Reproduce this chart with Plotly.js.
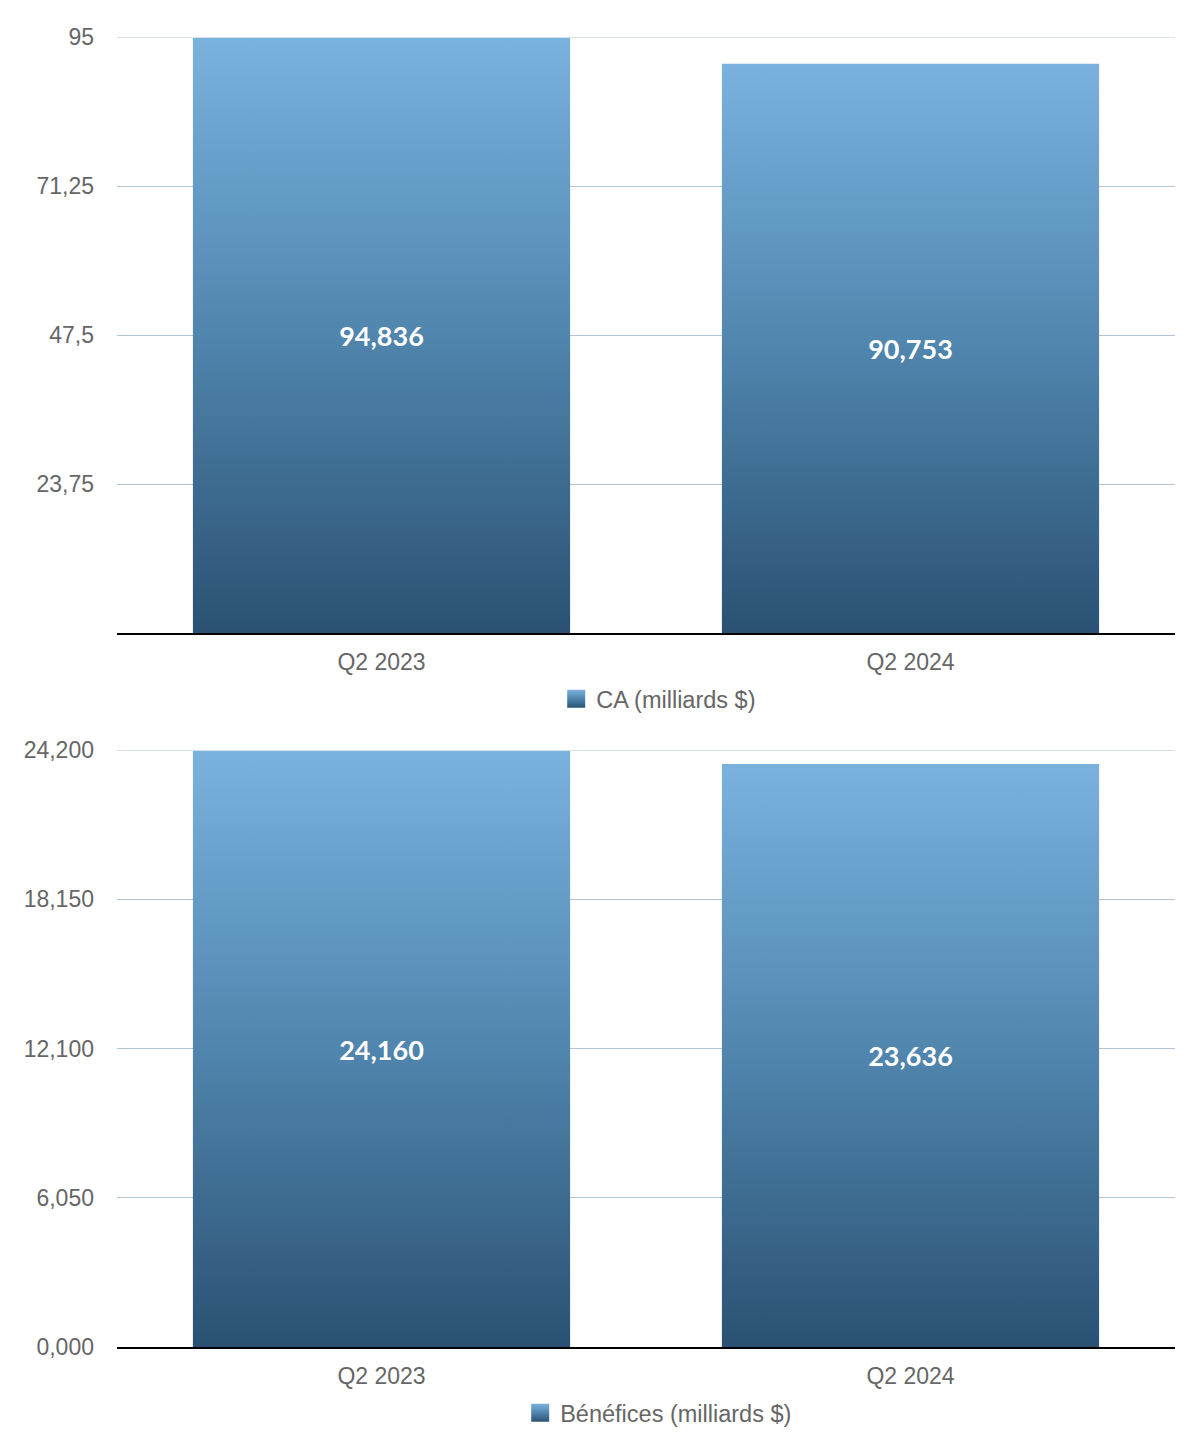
<!DOCTYPE html>
<html>
<head>
<meta charset="utf-8">
<script src="https://cdn.plot.ly/plotly-3.0.1.min.js"></script>
<style>html,body{margin:0;padding:0;background:#fff;}#chart{width:1200px;height:1454px;}</style>
</head>
<body>
<div id="chart"></div>
<script>
const categories = ['Q2 2023', 'Q2 2024'];
const revenue = [94.836, 90.753];
const revenueLabels = ['94,836', '90,753'];
const profit = [24.160, 23.636];
const profitLabels = ['24,160', '23,636'];
const revTickVals = [23.75, 47.5, 71.25, 95];
const revTickText = ['23,75', '47,5', '71,25', '95'];
const profTickVals = [0, 6.05, 12.1, 18.15, 24.2];
const profTickText = ['0,000', '6,050', '12,100', '18,150', '24,200'];
const revMax = 95;
const profMax = 24.2;

const tickFont = {family: 'Liberation Sans, Arial, sans-serif', size: 23, color: '#666666'};
const labelFont = {family: 'Lato, sans-serif', size: 27, color: '#ffffff', weight: 700};
const legendFont = {family: 'Liberation Sans, Arial, sans-serif', size: 23.5, color: '#666666'};

const traces = [
  {type: 'bar', x: categories, y: revenue, text: revenueLabels, name: 'CA (milliards $)',
   xaxis: 'x', yaxis: 'y', width: 0.713, marker: {color: '#4f86ae'},
   textposition: 'inside', insidetextanchor: 'middle', textangle: 0, textfont: labelFont,
   hoverinfo: 'none', legend: 'legend', cliponaxis: false},
  {type: 'bar', x: categories, y: profit, text: profitLabels, name: 'Bénéfices (milliards $)',
   xaxis: 'x2', yaxis: 'y2', width: 0.713, marker: {color: '#4f86ae'},
   textposition: 'inside', insidetextanchor: 'middle', textangle: 0, textfont: labelFont,
   hoverinfo: 'none', legend: 'legend2', cliponaxis: false}
];

const yCommon = {gridcolor: '#b3c5d8', gridwidth: 1, zeroline: false, showline: false,
  tickfont: tickFont, ticks: '', ticklabelstandoff: 22, tickmode: 'array', fixedrange: true};
const xCommon = {showline: true, linecolor: '#000000', linewidth: 1.5, ticks: '',
  tickfont: tickFont, showgrid: false, fixedrange: true, ticklabelstandoff: 8};

const layout = {
  width: 1200, height: 1454,
  margin: {l: 117, r: 25, t: 37, b: 107},
  paper_bgcolor: '#ffffff', plot_bgcolor: '#ffffff',
  showlegend: true,
  xaxis: Object.assign({}, xCommon, {domain: [0, 1], anchor: 'y'}),
  yaxis: Object.assign({}, yCommon, {domain: [0.545, 1], range: [0, revMax], tickvals: revTickVals, ticktext: revTickText, anchor: 'x'}),
  xaxis2: Object.assign({}, xCommon, {domain: [0, 1], anchor: 'y2'}),
  yaxis2: Object.assign({}, yCommon, {domain: [0, 0.4557], range: [0, profMax], tickvals: profTickVals, ticktext: profTickText, anchor: 'x2'}),
  shapes: [
    {type: 'line', xref: 'x domain', yref: 'y', x0: 0, x1: 1, y0: revMax, y1: revMax, layer: 'below', line: {color: '#b3c5d8', width: 1}},
    {type: 'line', xref: 'x2 domain', yref: 'y2', x0: 0, x1: 1, y0: profMax, y1: profMax, layer: 'below', line: {color: '#b3c5d8', width: 1}}
  ],
  legend: {x: 0.512, xanchor: 'center', y: 0.4947, yanchor: 'middle', orientation: 'h',
    font: legendFont, bgcolor: 'rgba(0,0,0,0)'},
  legend2: {x: 0.512, xanchor: 'center', y: -0.0504, yanchor: 'middle', orientation: 'h',
    font: legendFont, bgcolor: 'rgba(0,0,0,0)'},
  bargap: 0.287
};

Plotly.newPlot('chart', traces, layout, {displayModeBar: false, staticPlot: true}).then(function (gd) {
  const svg = gd.querySelector('svg.main-svg');
  const ns = 'http://www.w3.org/2000/svg';
  let defs = svg.querySelector('defs');
  if (!defs) { defs = document.createElementNS(ns, 'defs'); svg.insertBefore(defs, svg.firstChild); }
  const grad = document.createElementNS(ns, 'linearGradient');
  grad.setAttribute('id', 'barGrad');
  grad.setAttribute('x1', '0'); grad.setAttribute('y1', '0');
  grad.setAttribute('x2', '0'); grad.setAttribute('y2', '1');
  [['0', '#7ab2de'], ['0.5', '#5085ad'], ['1', '#2a5173']].forEach(function (s) {
    const st = document.createElementNS(ns, 'stop');
    st.setAttribute('offset', s[0]); st.setAttribute('stop-color', s[1]);
    grad.appendChild(st);
  });
  defs.appendChild(grad);
  gd.querySelectorAll('.barlayer .point path').forEach(function (p) {
    p.style.fill = 'url(#barGrad)';
  });
  gd.querySelectorAll('.legendpoints path').forEach(function (p) {
    p.setAttribute('d', 'M9,9H-9V-9H9Z');
    p.style.fill = 'url(#barGrad)';
    p.style.strokeWidth = '0';
  });
});
</script>
</body>
</html>
